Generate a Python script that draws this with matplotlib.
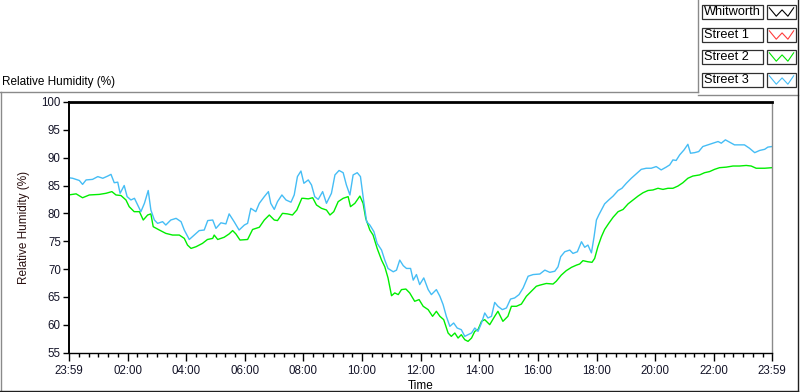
import numpy as np
import matplotlib
matplotlib.use("Agg")
import matplotlib.pyplot as plt
from matplotlib.lines import Line2D
from matplotlib.patches import Rectangle

# ---- data: hours after 23:59, relative humidity (%) ----
time_s3 = [0.00, 0.14, 0.37, 0.48, 0.60, 0.82, 1.00, 1.17, 1.34, 1.45, 1.56, 1.68, 1.76, 1.90,
           2.00, 2.13, 2.25, 2.36, 2.47, 2.59, 2.72, 2.81, 2.93, 3.04, 3.21, 3.32, 3.49, 3.67,
           3.84, 3.95, 4.12, 4.29, 4.46, 4.63, 4.75, 4.92, 5.03, 5.20, 5.37, 5.48, 5.65, 5.82,
           6.00, 6.11, 6.22, 6.39, 6.51, 6.68, 6.82, 6.90, 7.02, 7.13, 7.28, 7.42, 7.59, 7.70,
           7.81, 7.93, 8.03, 8.18, 8.29, 8.40, 8.52, 8.67, 8.80, 8.97, 9.09, 9.23, 9.37, 9.48,
           9.60, 9.71, 9.85, 9.96, 10.05, 10.17, 10.28, 10.42, 10.53, 10.68, 10.79, 10.90,
           11.08, 11.19, 11.30, 11.42, 11.53, 11.67, 11.76, 11.87, 11.98, 12.12, 12.27, 12.38,
           12.55, 12.67, 12.78, 12.89, 13.01, 13.14, 13.26, 13.40, 13.52, 13.63, 13.75, 13.86,
           13.97, 14.09, 14.20, 14.31, 14.43, 14.54, 14.65, 14.80, 14.94, 15.08, 15.22, 15.37,
           15.51, 15.68, 15.85, 16.08, 16.25, 16.42, 16.59, 16.70, 16.79, 16.93, 17.10, 17.21,
           17.36, 17.50, 17.61, 17.72, 17.84, 17.93, 18.01, 18.09, 18.18, 18.29, 18.43, 18.58,
           18.75, 18.88, 19.03, 19.20, 19.37, 19.54, 19.71, 19.88, 20.05, 20.22, 20.39, 20.51,
           20.62, 20.73, 20.85, 21.00, 21.13, 21.22, 21.36, 21.50, 21.64, 21.81, 21.98, 22.16,
           22.27, 22.41, 22.55, 22.72, 22.89, 23.06, 23.23, 23.41, 23.58, 23.75, 23.86, 24.00]
rh_s3 = [86.4, 86.3, 85.9, 85.2, 86.0, 86.1, 86.6, 86.3, 86.7, 87.0, 85.5, 85.6, 83.6, 85.0,
         83.0, 82.4, 82.7, 81.5, 80.3, 81.8, 84.1, 80.6, 78.8, 78.2, 78.5, 77.9, 78.8, 79.1,
         78.5, 77.0, 75.3, 76.1, 76.9, 77.0, 78.7, 78.8, 77.3, 78.3, 78.1, 79.9, 78.5, 77.0,
         77.9, 78.2, 80.9, 80.3, 81.8, 83.0, 83.9, 81.8, 80.7, 82.1, 83.3, 82.4, 82.0, 83.3,
         86.6, 87.6, 85.4, 86.0, 85.1, 83.0, 82.5, 83.9, 81.8, 83.6, 86.9, 87.7, 87.3, 85.1,
         83.3, 86.9, 87.3, 86.6, 83.0, 78.5, 77.9, 76.7, 74.6, 73.4, 71.6, 70.1,
         69.5, 69.8, 71.6, 70.6, 70.1, 70.1, 68.0, 69.0, 67.2, 68.4, 66.3, 65.4,
         66.3, 65.1, 63.6, 61.5, 59.7, 60.3, 59.4, 59.1, 57.9, 58.2, 58.5, 59.4,
         58.8, 60.3, 62.1, 61.2, 61.5, 64.0, 63.3, 62.7, 63.0, 64.6, 64.8, 65.4,
         66.6, 68.7, 69.0, 69.1, 69.8, 69.4, 69.6, 70.4, 72.2, 73.1, 73.4, 72.8,
         73.1, 74.9, 73.9, 74.3, 72.9, 75.8, 78.8, 79.7, 80.6, 81.7, 82.4, 83.1,
         84.1, 84.5, 85.4, 86.3, 87.1, 87.9, 88.1, 88.1, 88.4, 87.8, 88.3, 88.7,
         89.6, 89.5, 90.5, 91.4, 92.4, 90.8, 90.9, 91.1, 92.0, 92.3, 92.6, 92.9,
         92.6, 93.2, 92.8, 92.3, 92.3, 92.3, 91.7, 90.9, 91.3, 91.5, 91.9, 92.0]

time_s2 = [0.00, 0.26, 0.48, 0.71, 1.05, 1.28, 1.48, 1.62, 1.79, 1.96, 2.07, 2.24, 2.42, 2.55,
           2.70, 2.81, 2.89, 3.10, 3.32, 3.55, 3.78, 3.95, 4.06, 4.18, 4.35, 4.57, 4.74, 4.92,
           4.97, 5.09, 5.31, 5.48, 5.60, 5.71, 5.85, 6.11, 6.28, 6.51, 6.68, 6.85, 7.02, 7.13,
           7.30, 7.47, 7.64, 7.79, 7.96, 8.01, 8.18, 8.33, 8.46, 8.63, 8.80, 8.92, 9.05, 9.20,
           9.37, 9.54, 9.62, 9.77, 9.94, 10.05, 10.14, 10.28, 10.39, 10.53, 10.68, 10.79,
           10.90, 11.02, 11.13, 11.25, 11.36, 11.51, 11.64, 11.81, 11.96, 12.10, 12.27, 12.42,
           12.55, 12.67, 12.80, 12.95, 13.06, 13.18, 13.29, 13.40, 13.52, 13.63, 13.75, 13.86,
           13.97, 14.09, 14.20, 14.37, 14.54, 14.65, 14.82, 14.99, 15.11, 15.28, 15.45, 15.62,
           15.79, 15.96, 16.08, 16.30, 16.53, 16.64, 16.81, 16.98, 17.16, 17.33, 17.44, 17.55,
           17.72, 17.86, 17.95, 18.06, 18.18, 18.29, 18.43, 18.58, 18.75, 18.92, 19.09, 19.26,
           19.43, 19.60, 19.77, 19.94, 20.11, 20.28, 20.45, 20.62, 20.79, 20.96, 21.13, 21.30,
           21.53, 21.70, 21.87, 22.04, 22.21, 22.44, 22.67, 22.89, 23.12, 23.29, 23.46, 23.75,
           24.00]
rh_s2 = [83.3, 83.5, 82.8, 83.3, 83.4, 83.6, 83.9, 83.3, 83.2, 82.4, 81.2, 80.3, 80.3, 78.8,
         79.7, 79.9, 77.6, 77.0, 76.4, 76.1, 76.1, 75.5, 74.3, 73.7, 74.0, 74.6, 75.3, 75.5,
         76.1, 75.3, 75.7, 76.3, 76.9, 76.3, 75.2, 75.3, 77.1, 77.5, 78.8, 79.7, 78.8, 78.7,
         80.0, 79.9, 79.7, 80.6, 82.7, 82.7, 82.6, 82.8, 81.5, 80.9, 80.6, 79.7, 80.3, 82.1,
         82.7, 83.0, 81.2, 81.8, 83.1, 81.8, 79.1, 77.0, 76.1, 73.7, 71.6, 70.4,
         68.4, 65.2, 65.7, 65.4, 66.3, 66.4, 65.7, 64.2, 64.5, 63.3, 62.7, 61.5,
         62.4, 61.5, 60.9, 58.5, 57.9, 58.5, 57.6, 58.2, 57.3, 57.0, 57.6, 58.8,
         59.1, 60.6, 60.9, 60.0, 61.5, 62.4, 60.6, 61.5, 63.3, 63.3, 63.7, 65.1,
         66.0, 66.9, 67.1, 67.4, 67.3, 67.8, 68.9, 69.7, 70.3, 70.7, 70.9, 71.5,
         71.3, 71.2, 71.9, 74.0, 75.8, 77.1, 78.2, 79.3, 80.3, 80.7, 81.7, 82.4,
         83.1, 83.7, 84.1, 84.2, 84.5, 84.3, 84.5, 84.5, 84.9, 85.5, 86.3, 86.7,
         86.9, 87.3, 87.5, 87.9, 88.2, 88.3, 88.5, 88.5, 88.6, 88.5, 88.1, 88.1,
         88.2]

legend_names = ["Whitworth", "Street 1", "Street 2", "Street 3"]
legend_colors = ["#000000", "#ff3c3c", "#00e600", "#45bdf5"]

tick_hours = [0, 2, 4, 6, 8, 10, 12, 14, 16, 18, 20, 22, 24]
tick_labels = ["23:59", "02:00", "04:00", "06:00", "08:00", "10:00", "12:00",
               "14:00", "16:00", "18:00", "20:00", "22:00", "23:59"]

plt.rcParams["font.family"] = ["Liberation Sans", "DejaVu Sans"]
W, H = 800, 392
fig = plt.figure(figsize=(W / 100, H / 100), dpi=100)
fig.patch.set_facecolor("white")


def fx(px):
    return px / W


def fy(py):
    return 1 - py / H


ax = fig.add_axes([fx(68.5), fy(352.5), fx(772) - fx(68.5), fy(102) - fy(352.5)])
ax.plot(time_s2, rh_s2, color="#00ee00", lw=1.0)
ax.plot(time_s3, rh_s3, color="#45bdf5", lw=1.0)

ax.set_xlim(0, 24)
ax.set_ylim(55, 100)
ax.set_yticks(np.arange(55, 101, 5))

# major ticks at clock hours (shifted by 1 min from the 23:59 origin)
major = [0] + [h + 1 / 60 for h in tick_hours[1:-1]] + [24]
ax.set_xticks(major)
ax.set_xticklabels(tick_labels)
minor = [c + 1 / 60 for c in np.arange(1 / 3, 24, 1 / 3) if abs(c / 2 - round(c / 2)) > 0.01]
ax.set_xticks(minor, minor=True)

ax.tick_params(axis="y", direction="out", length=4, width=1, pad=1.5,
               labelsize=8.3, labelcolor="#141428")
ax.tick_params(axis="x", which="major", direction="out", length=6, width=1, pad=3,
               labelsize=8.3, labelcolor="#141428")
ax.tick_params(axis="x", which="minor", direction="out", length=3, width=1)

ax.spines["top"].set_linewidth(2.0)
ax.spines["left"].set_linewidth(1.4)
ax.spines["bottom"].set_linewidth(1.0)
ax.spines["right"].set_color("#8a8a8a")
ax.spines["right"].set_linewidth(1.0)

ax.set_xlabel("Time", fontsize=8.5, labelpad=2)
ax.set_ylabel("Relative Humidity (%)", fontsize=8.5, color="#2a1010", labelpad=8)

# panel frame
frame = [
    ((0.5, 92), (0.5, 390.5), "#8a8a8a"),
    ((0, 92), (698, 92), "#8a8a8a"),
    ((698, 92), (698, 0), "#8a8a8a"),
    ((698, 95), (798, 95), "#8a8a8a"),
    ((797.5, 0), (797.5, 391), "#202020"),
    ((0, 390.5), (798, 390.5), "#202020"),
]
for (x0, y0), (x1, y1), c in frame:
    fig.add_artist(Line2D([fx(x0), fx(x1)], [fy(y0), fy(y1)], color=c, lw=1.0))

fig.text(fx(2), fy(82), "Relative Humidity (%)", fontsize=8.5, va="center", ha="left")

# legend boxes
row_tops = [5, 28, 50, 73]
for name, col, top in zip(legend_names, legend_colors, row_tops):
    h = 14
    fig.add_artist(Rectangle((fx(702), fy(top + h)), fx(763) - fx(702), fy(top) - fy(top + h),
                             transform=fig.transFigure, facecolor="white",
                             edgecolor="#303030", lw=0.9))
    fig.text(fx(704), fy(top + h / 2), name, fontsize=9.2, va="center", ha="left")
    fig.add_artist(Rectangle((fx(767), fy(top + h)), fx(796) - fx(767), fy(top) - fy(top + h),
                             transform=fig.transFigure, facecolor="white",
                             edgecolor="#303030", lw=0.9))
    zx = np.array([0.08, 0.32, 0.52, 0.72, 0.92])
    zy = np.array([0.2, 0.8, 0.35, 0.8, 0.2])
    fig.add_artist(Line2D(fx(767 + zx * 29), fy(top + zy * h), color=col, lw=0.8))

fig.savefig("out.png", dpi=100)
